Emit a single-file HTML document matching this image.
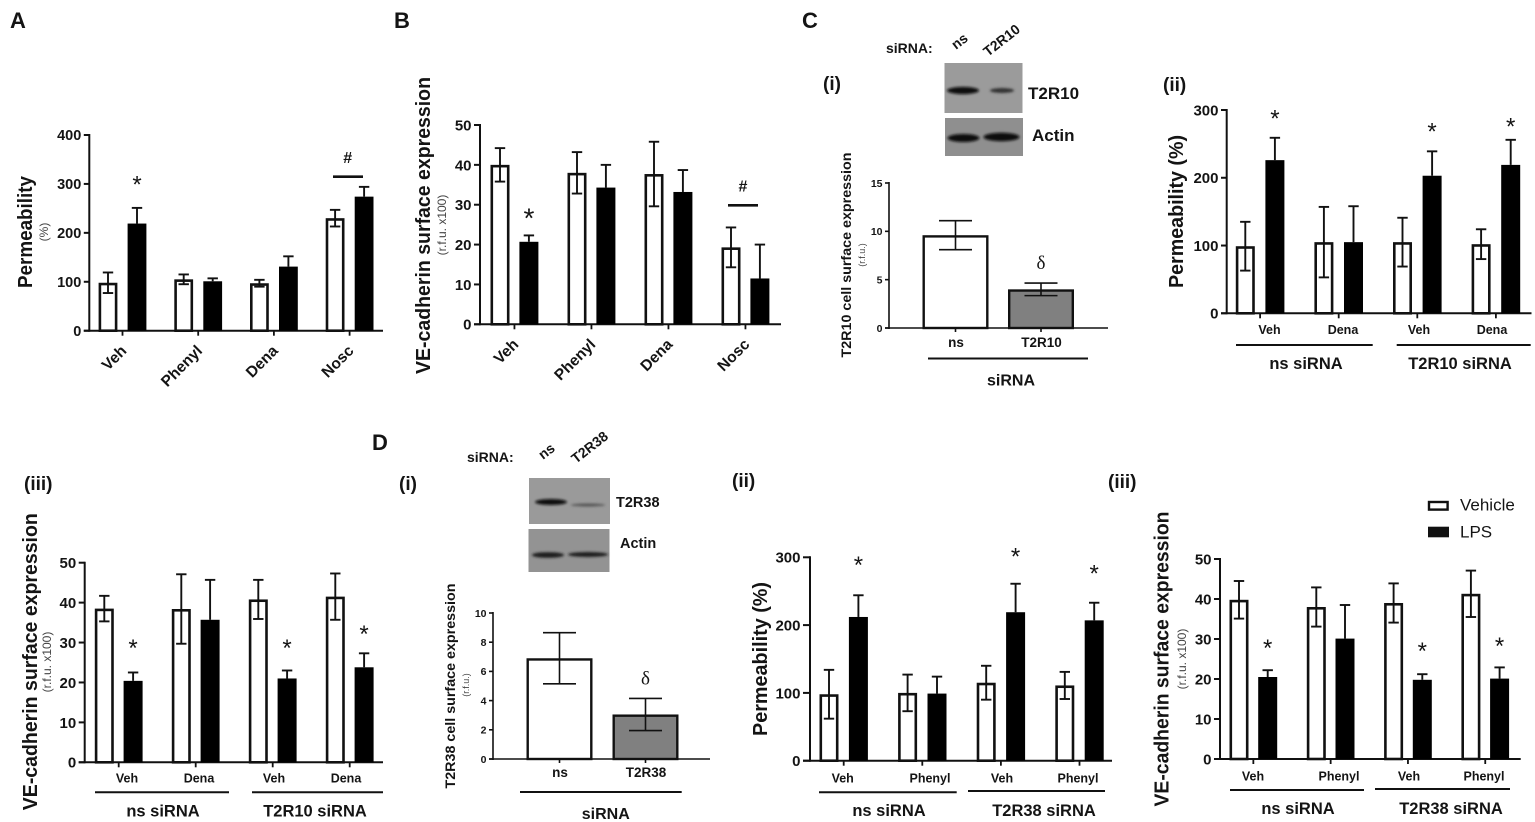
<!DOCTYPE html>
<html lang="en">
<head>
<meta charset="utf-8">
<title>T2R bitter taste receptor panels</title>
<style>
html,body{margin:0;padding:0;background:#fff;width:1535px;height:822px;overflow:hidden}
svg{display:block;filter:blur(.35px)}
text{font-family:"Liberation Sans",sans-serif;fill:#141414}
.panel{font-weight:700;font-size:22px}
.roman{font-weight:700;font-size:19px}
.small{font-weight:700;font-size:14px}
</style>
</head>
<body>
<svg id="figure" xmlns="http://www.w3.org/2000/svg" width="1535" height="822" viewBox="0 0 1535 822">
  <defs>
    <filter id="soft" x="-30%" y="-100%" width="160%" height="300%"><feGaussianBlur stdDeviation="1.3"/></filter>
    <filter id="softer" x="-30%" y="-100%" width="160%" height="300%"><feGaussianBlur stdDeviation="2"/></filter>
  </defs>
  <rect width="1535" height="822" fill="#fff"/>

  <text class="panel" x="10" y="28">A</text>
  <text class="panel" x="394" y="28">B</text>
  <text class="panel" x="802" y="28">C</text>
  <text class="panel" x="372" y="450">D</text>
  <text class="roman" x="823" y="90">(i)</text>
  <text class="roman" x="1163" y="91">(ii)</text>
  <text class="roman" x="24" y="490">(iii)</text>
  <text class="roman" x="399" y="490">(i)</text>
  <text class="roman" x="732" y="487">(ii)</text>
  <text class="roman" x="1108" y="488">(iii)</text>

  <g>
    <text class="small" x="886" y="53">siRNA:</text>
    <text class="small" transform="translate(956,50) rotate(-38)">ns</text>
    <text class="small" transform="translate(988,57) rotate(-38)">T2R10</text>
    <rect x="944.5" y="63" width="78" height="50" fill="#9b9b9b"/>
    <ellipse cx="963" cy="90.5" rx="16" ry="3.6" fill="#111" filter="url(#soft)"/>
    <ellipse cx="1002" cy="90.5" rx="12" ry="2.5" fill="#333" filter="url(#soft)"/>
    <rect x="945" y="118" width="78" height="38" fill="#8f8f8f"/>
    <ellipse cx="963.5" cy="138" rx="16" ry="4" fill="#111" filter="url(#soft)"/>
    <ellipse cx="1001.5" cy="137" rx="18" ry="4.2" fill="#0f0f0f" filter="url(#soft)"/>
    <text x="1028" y="99" font-weight="700" font-size="17">T2R10</text>
    <text x="1032" y="141" font-weight="700" font-size="17">Actin</text>
  </g>

  <g>
    <text class="small" x="467" y="462">siRNA:</text>
    <text class="small" transform="translate(543,460) rotate(-38)">ns</text>
    <text class="small" transform="translate(576,464) rotate(-38)">T2R38</text>
    <rect x="529" y="478" width="81" height="46" fill="#9a9a9a"/>
    <ellipse cx="551" cy="502" rx="16" ry="3" fill="#111" filter="url(#soft)"/>
    <ellipse cx="588" cy="505" rx="17" ry="1.5" fill="#555" filter="url(#soft)"/>
    <rect x="528.5" y="529" width="81" height="43" fill="#939393"/>
    <ellipse cx="548" cy="555" rx="16" ry="2.8" fill="#1a1a1a" filter="url(#soft)"/>
    <ellipse cx="588" cy="554.5" rx="20" ry="2.5" fill="#1c1c1c" filter="url(#soft)"/>
    <text x="616" y="507" font-weight="700" font-size="14.5">T2R38</text>
    <text x="620" y="548" font-weight="700" font-size="14.5">Actin</text>
  </g>

  <g>
    <rect x="1429" y="502" width="18.6" height="7.6" fill="#fff" stroke="#111" stroke-width="2.4"/>
    <text x="1460" y="510.5" font-size="17">Vehicle</text>
    <rect x="1428" y="526.7" width="21" height="10.6" fill="#111"/>
    <text x="1460" y="537.5" font-size="17">LPS</text>
  </g>

  <g id="charts"></g>
</svg>

<script>
// ---- Chart data ----
const aCategories = ['Veh', 'Phenyl', 'Dena', 'Nosc'];
const aTicks = [0, 100, 200, 300, 400];
const aVehicle = [98, 105, 97, 230];
const aVehicleErr = [21, 10, 7, 17];
const aLps = [219, 101, 131, 274];
const aLpsErr = [32, 6, 21, 20];

const bCategories = ['Veh', 'Phenyl', 'Dena', 'Nosc'];
const bTicks = [0, 10, 20, 30, 40, 50];
const bVehicle = [40, 38, 37.7, 19.3];
const bVehicleErr = [4.2, 5.2, 8.1, 5];
const bLps = [20.7, 34.3, 33.2, 11.5];
const bLpsErr = [1.6, 5.7, 5.5, 8.5];

const ciCategories = ['ns', 'T2R10'];
const ciTicks = [0, 5, 10, 15];
const ciValues = [9.6, 4];
const ciErr = [1.5, 0.65];

const ciiCategories = ['Veh', 'Dena', 'Veh', 'Dena'];
const ciiTicks = [0, 100, 200, 300];
const ciiVehicle = [99, 105, 105, 102];
const ciiVehicleErr = [36, 52, 36, 22];
const ciiLps = [226, 105, 203, 219];
const ciiLpsErr = [33, 53, 36, 37];

const ciiiCategories = ['Veh', 'Dena', 'Veh', 'Dena'];
const ciiiTicks = [0, 10, 20, 30, 40, 50];
const ciiiVehicle = [38.5, 38.4, 40.8, 41.5];
const ciiiVehicleErr = [3.2, 8.7, 4.9, 5.8];
const ciiiLps = [20.4, 35.7, 21, 23.8];
const ciiiLpsErr = [2.1, 10, 2, 3.5];

const diCategories = ['ns', 'T2R38'];
const diTicks = [0, 2, 4, 6, 8, 10];
const diValues = [6.9, 3.05];
const diErr = [1.75, 1.1];

const diiCategories = ['Veh', 'Phenyl', 'Veh', 'Phenyl'];
const diiTicks = [0, 100, 200, 300];
const diiVehicle = [98, 100, 115, 111];
const diiVehicleErr = [36, 27, 25, 20];
const diiLps = [212, 99, 219, 207];
const diiLpsErr = [32, 25, 42, 26];

const diiiCategories = ['Veh', 'Phenyl', 'Veh', 'Phenyl'];
const diiiTicks = [0, 10, 20, 30, 40, 50];
const diiiVehicle = [39.8, 38, 39, 41.3];
const diiiVehicleErr = [4.7, 4.9, 4.9, 5.8];
const diiiLps = [20.5, 30.1, 19.8, 20.1];
const diiiLpsErr = [1.7, 8.4, 1.4, 2.8];

// ---- Drawing ----
const NS = 'http://www.w3.org/2000/svg';
const root = document.getElementById('charts');

function makeGroup(parent, name) {
  const g = document.createElementNS(NS, 'g');
  
  
  parent.appendChild(g);
  return g;
}
function makeLine(parent, name, x1, y1, x2, y2, w) {
  const el = document.createElementNS(NS, 'line');
  
  
  el.setAttribute('x1', x1);
  el.setAttribute('y1', y1);
  el.setAttribute('x2', x2);
  el.setAttribute('y2', y2);
  el.setAttribute('stroke', '#111');
  el.setAttribute('stroke-width', w);
  parent.appendChild(el);
  return el;
}
function makeRect(parent, name, x, y, w, h, fill, sw) {
  const el = document.createElementNS(NS, 'rect');
  
  
  el.setAttribute('x', x + sw / 2);
  el.setAttribute('y', y + sw / 2);
  el.setAttribute('width', Math.max(0, w - sw));
  el.setAttribute('height', Math.max(0, h - sw / 2));
  el.setAttribute('fill', fill);
  el.setAttribute('stroke', '#111');
  el.setAttribute('stroke-width', sw);
  parent.appendChild(el);
  return el;
}
function makeText(parent, name, str, x, y, size, opts) {
  const o = opts || {};
  const el = document.createElementNS(NS, 'text');
  
  
  el.setAttribute('font-size', size);
  el.setAttribute('font-weight', o.weight || 700);
  el.setAttribute('text-anchor', o.anchor || 'middle');
  if (o.rotate !== undefined) {
    el.setAttribute('transform', 'translate(' + x + ',' + y + ') rotate(' + o.rotate + ')');
  } else {
    el.setAttribute('x', x);
    el.setAttribute('y', y);
  }
  if (o.len) {
    el.setAttribute('textLength', o.len);
    el.setAttribute('lengthAdjust', 'spacingAndGlyphs');
  }
  if (o.fill) el.style.fill = o.fill;
  if (o.family) el.style.fontFamily = o.family;
  el.textContent = str;
  parent.appendChild(el);
  return el;
}

function drawAxes(g, c) {
  const y = v => c.y0 - (v / c.yMax) * (c.y0 - c.yTop);
  makeLine(g, 'y-axis', c.axisX, y(c.yMax) - 1, c.axisX, c.y0 + 1, c.axisW);
  makeLine(g, 'x-axis', c.axisX - c.tick, c.y0, c.axisEnd, c.y0, c.axisW);
  c.ticks.forEach(function (t) {
    makeLine(g, 'y-tick-' + t, c.axisX - c.tick, y(t), c.axisX, y(t), c.axisW);
    makeText(g, 'y-tick-label-' + t, String(t), c.axisX - c.tick - 2.5, y(t) + c.tickSize * 0.36, c.tickSize, { anchor: 'end' });
  });
  return y;
}

function drawPaired(c) {
  const g = makeGroup(root, c.name);
  const y = drawAxes(g, c);
  const bw = c.barW;
  c.categories.forEach(function (cat, i) {
    const xW = c.firstX + i * c.step;
    const xB = xW + c.gap;
    const xC = (xW + xB) / 2;
    const v = c.vehicle[i], ve = c.vehicleErr[i], l = c.lps[i], le = c.lpsErr[i];
    makeRect(g, 'bar-vehicle-' + cat.toLowerCase() + '-' + i, xW - bw / 2, y(v), bw, c.y0 - y(v), '#fff', 2.6);
    makeLine(g, 'error-stem-vehicle-' + i, xW, y(v + ve), xW, y(v - ve), 1.9);
    makeLine(g, 'error-cap-vehicle-top-' + i, xW - 5.2, y(v + ve), xW + 5.2, y(v + ve), 1.9);
    makeLine(g, 'error-cap-vehicle-bottom-' + i, xW - 5.2, y(v - ve), xW + 5.2, y(v - ve), 1.9);
    makeRect(g, 'bar-lps-' + cat.toLowerCase() + '-' + i, xB - bw / 2, y(l), bw, c.y0 - y(l), '#000', 0);
    makeLine(g, 'error-stem-lps-' + i, xB, y(l + le), xB, y(l), 1.9);
    makeLine(g, 'error-cap-lps-top-' + i, xB - 5.2, y(l + le), xB + 5.2, y(l + le), 1.9);
    makeLine(g, 'x-tick-' + i, xC, c.y0, xC, c.y0 + 5, 1.8);
    if (c.rotatedLabels) {
      makeText(g, 'category-label-' + cat.toLowerCase(), cat, xC + 5, c.y0 + 21, c.catSize, { anchor: 'end', rotate: -45 });
    } else {
      makeText(g, 'category-label-' + cat.toLowerCase() + '-' + i, cat, c.catX[i], c.catY, c.catSize);
    }
    const s = c.stars.indexOf(i);
    if (s >= 0) {
      const size = c.starSize || 24;
      makeText(g, 'significance-star-' + i, '*', xB, y(l + le) - c.starGaps[s] + 0.44 * size, size, { weight: 400 });
    }
  });
  return { g: g, y: y };
}

function drawSingle(c) {
  const g = makeGroup(root, c.name);
  const y = drawAxes(g, c);
  c.categories.forEach(function (cat, i) {
    const xC = c.firstX + i * c.step;
    const v = c.values[i], e = c.err[i];
    const fill = i === 0 ? '#fff' : '#808080';
    makeRect(g, 'bar-' + cat.toLowerCase(), xC - c.barW / 2, y(v), c.barW, c.y0 - y(v), fill, 2.4);
    makeLine(g, 'error-stem-' + cat.toLowerCase(), xC, y(v + e), xC, y(v - e), 1.6);
    makeLine(g, 'error-cap-top-' + cat.toLowerCase(), xC - 16.5, y(v + e), xC + 16.5, y(v + e), 1.6);
    makeLine(g, 'error-cap-bottom-' + cat.toLowerCase(), xC - 16.5, y(v - e), xC + 16.5, y(v - e), 1.6);
    makeLine(g, 'x-tick-' + cat.toLowerCase(), xC, c.y0, xC, c.y0 + 4, 1.6);
    makeText(g, 'category-label-' + cat.toLowerCase(), cat, xC + 0.5, c.catY, c.catSize);
  });
  const dx = c.firstX + c.step;
  makeText(g, 'significance-delta', 'δ', dx, y(c.values[1] + c.err[1]) - 14, 19, { weight: 400, family: '"Liberation Serif",serif' });
  return { g: g, y: y };
}

function yTitle(g, str, x, cy, size, len) {
  makeText(g, 'y-axis-title', str, x, cy, size, { rotate: -90, len: len });
}
function ySub(g, str, x, cy, size) {
  makeText(g, 'y-axis-unit', str, x, cy, size, { rotate: -90, weight: 400, fill: '#444' });
}
function bracket(g, name, x1, x2, y, label, lx, ly, size) {
  makeLine(g, name + '-line', x1, y, x2, y, 2);
  makeText(g, name + '-label', label, lx, ly, size);
}

// Panel A
let p = drawPaired({
  name: 'chart-a-permeability', categories: aCategories, vehicle: aVehicle, vehicleErr: aVehicleErr, lps: aLps, lpsErr: aLpsErr,
  ticks: aTicks, yMax: 400, y0: 330.7, yTop: 135, axisX: 89.3, axisEnd: 383, axisW: 2, tick: 5.5, tickSize: 14.5,
  firstX: 108, step: 75.7, gap: 29, barW: 18.8, rotatedLabels: true, catSize: 15.5, stars: [0], starGaps: [26]
});
yTitle(p.g, 'Permeability', 32, 232, 20, 112);
ySub(p.g, '(%)', 48, 232, 12);
makeText(p.g, 'significance-hash', '#', 347.7, 163, 16);
makeLine(p.g, 'significance-bar', 333, 176.7, 363, 176.7, 2.6);

// Panel B
p = drawPaired({
  name: 'chart-b-ve-cadherin', categories: bCategories, vehicle: bVehicle, vehicleErr: bVehicleErr, lps: bLps, lpsErr: bLpsErr,
  ticks: bTicks, yMax: 50, y0: 324.3, yTop: 125, axisX: 480, axisEnd: 781, axisW: 2, tick: 6, tickSize: 15,
  firstX: 500, step: 77, gap: 28.9, barW: 19, rotatedLabels: true, catSize: 15.5, stars: [0], starGaps: [20], starSize: 28
});
yTitle(p.g, 'VE-cadherin surface expression', 430, 225.5, 20, 297);
ySub(p.g, '(r.f.u. x100)', 446, 225, 12);
makeText(p.g, 'significance-hash', '#', 743, 191.7, 16);
makeLine(p.g, 'significance-bar', 728, 205.3, 758, 205.3, 2.6);

// Panel C (i)
p = drawSingle({
  name: 'chart-c-i-t2r10-expression', categories: ciCategories, values: ciValues, err: ciErr,
  ticks: ciTicks, yMax: 15, y0: 328, yTop: 183, axisX: 889, axisEnd: 1108, axisW: 1.6, tick: 4, tickSize: 10.5,
  firstX: 955.5, step: 85.5, barW: 66, catY: 347, catSize: 13.5
});
yTitle(p.g, 'T2R10 cell surface expression', 851, 255, 13.5, 205);
ySub(p.g, '(r.f.u.)', 865, 255, 9);
bracket(p.g, 'sirna-group-c', 928, 1088, 358.5, 'siRNA', 1011, 385.5, 16);

// Panel C (ii)
p = drawPaired({
  name: 'chart-c-ii-permeability', categories: ciiCategories, vehicle: ciiVehicle, vehicleErr: ciiVehicleErr, lps: ciiLps, lpsErr: ciiLpsErr,
  ticks: ciiTicks, yMax: 300, y0: 313.3, yTop: 110, axisX: 1226.7, axisEnd: 1531.5, axisW: 2, tick: 5.7, tickSize: 15,
  firstX: 1245.3, step: 78.6, gap: 29.6, barW: 19, catSize: 12.5, catY: 334, catX: [1269.5, 1343, 1419, 1492],
  stars: [0, 2, 3], starGaps: [21.7, 22.3, 16]
});
yTitle(p.g, 'Permeability (%)', 1183, 211.5, 20, 153);
bracket(p.g, 'ns-sirna-group-c-ii', 1236, 1372.7, 345, 'ns siRNA', 1306, 369, 16.5);
bracket(p.g, 't2r10-sirna-group-c-ii', 1396.7, 1530.7, 345, 'T2R10 siRNA', 1460, 369, 16.5);

// Panel C (iii)
p = drawPaired({
  name: 'chart-c-iii-ve-cadherin', categories: ciiiCategories, vehicle: ciiiVehicle, vehicleErr: ciiiVehicleErr, lps: ciiiLps, lpsErr: ciiiLpsErr,
  ticks: ciiiTicks, yMax: 50, y0: 762.3, yTop: 562.7, axisX: 84.7, axisEnd: 383, axisW: 2, tick: 6, tickSize: 15,
  firstX: 104.3, step: 77, gap: 28.8, barW: 19, catSize: 12.5, catY: 782.3, catX: [127, 199, 274, 346],
  stars: [0, 2, 3], starGaps: [26.8, 24.8, 21.7]
});
yTitle(p.g, 'VE-cadherin surface expression', 37, 661.7, 20, 297);
ySub(p.g, '(r.f.u. x100)', 51, 662, 12);
bracket(p.g, 'ns-sirna-group-c-iii', 95, 229, 792.3, 'ns siRNA', 163, 816.5, 16.5);
bracket(p.g, 't2r10-sirna-group-c-iii', 252, 383, 792.3, 'T2R10 siRNA', 315, 816.5, 16.5);

// Panel D (i)
p = drawSingle({
  name: 'chart-d-i-t2r38-expression', categories: diCategories, values: diValues, err: diErr,
  ticks: diTicks, yMax: 10, y0: 759, yTop: 613, axisX: 493, axisEnd: 710, axisW: 1.6, tick: 4, tickSize: 10.5,
  firstX: 559.5, step: 86, barW: 66, catY: 777, catSize: 13.5
});
yTitle(p.g, 'T2R38 cell surface expression', 455, 686, 13.5, 205);
ySub(p.g, '(r.f.u.)', 469, 685, 9);
bracket(p.g, 'sirna-group-d', 520, 681.7, 792, 'siRNA', 605.8, 819, 16);

// Panel D (ii)
p = drawPaired({
  name: 'chart-d-ii-permeability', categories: diiCategories, vehicle: diiVehicle, vehicleErr: diiVehicleErr, lps: diiLps, lpsErr: diiLpsErr,
  ticks: diiTicks, yMax: 300, y0: 760.7, yTop: 557.3, axisX: 810, axisEnd: 1112, axisW: 2, tick: 7, tickSize: 15,
  firstX: 829, step: 78.6, gap: 29.4, barW: 19, catSize: 12.5, catY: 782.7, catX: [842.7, 930, 1002, 1078],
  stars: [0, 2, 3], starGaps: [32.6, 29.7, 32]
});
yTitle(p.g, 'Permeability (%)', 767, 659, 20, 154);
bracket(p.g, 'ns-sirna-group-d-ii', 819, 956.7, 792.3, 'ns siRNA', 889, 816, 16.5);
bracket(p.g, 't2r38-sirna-group-d-ii', 968, 1105, 791, 'T2R38 siRNA', 1044, 816, 16.5);

// Panel D (iii)
p = drawPaired({
  name: 'chart-d-iii-ve-cadherin', categories: diiiCategories, vehicle: diiiVehicle, vehicleErr: diiiVehicleErr, lps: diiiLps, lpsErr: diiiLpsErr,
  ticks: diiiTicks, yMax: 50, y0: 759, yTop: 559, axisX: 1220, axisEnd: 1520.7, axisW: 2, tick: 6, tickSize: 15,
  firstX: 1239, step: 77.3, gap: 28.7, barW: 19, catSize: 12.5, catY: 780.5, catX: [1253, 1339, 1409, 1484],
  stars: [0, 2, 3], starGaps: [25, 26, 24]
});
yTitle(p.g, 'VE-cadherin surface expression', 1168.5, 659, 20, 295);
ySub(p.g, '(r.f.u. x100)', 1186, 659, 12);
bracket(p.g, 'ns-sirna-group-d-iii', 1230, 1364, 790, 'ns siRNA', 1298, 814, 16.5);
bracket(p.g, 't2r38-sirna-group-d-iii', 1375, 1510, 789, 'T2R38 siRNA', 1451, 814, 16.5);
</script>
</body>
</html>
